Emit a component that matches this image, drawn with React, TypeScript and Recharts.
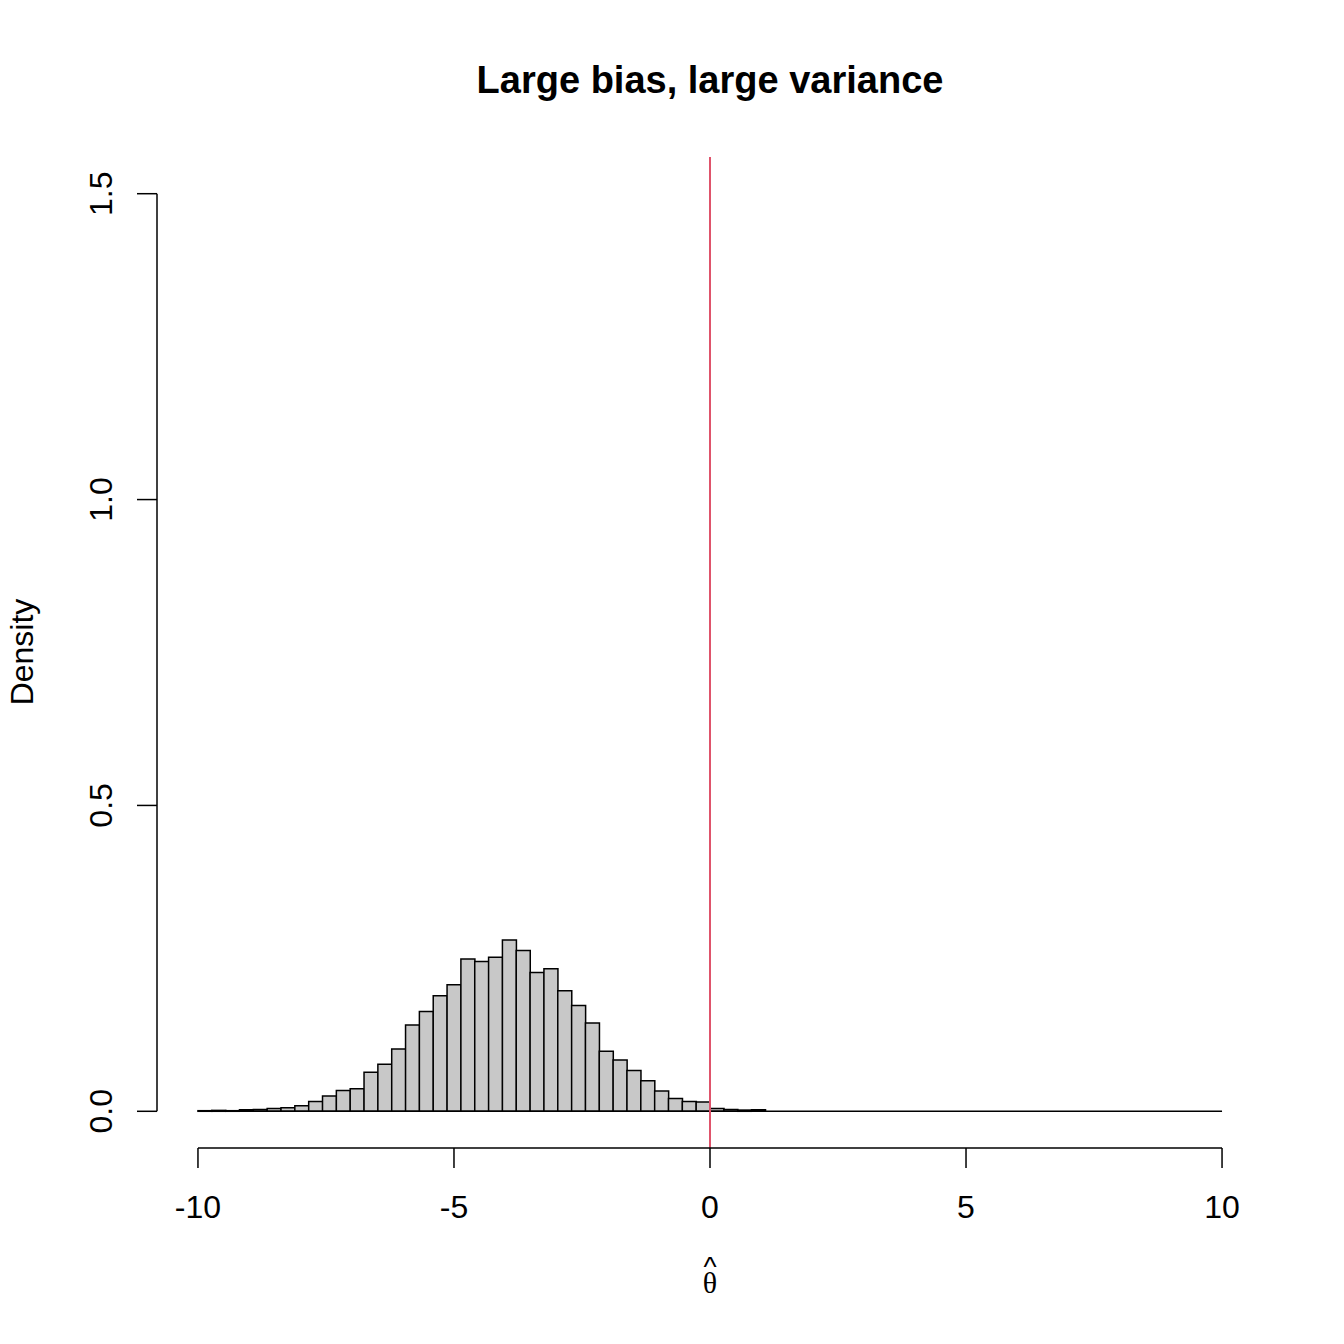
import React from "react";
import {
  ComposedChart,
  Bar,
  XAxis,
  YAxis,
  ReferenceLine,
} from "recharts";

// histogram: 74 equal bins from -10 to 10 (breaks at seq(-10, 10, length = 75))
const BIN_COUNT = 74;
const X_MIN = -10;
const X_MAX = 10;

const densityLeft = [
  0.001, 0.0015, 0.001, 0.0025, 0.003, 0.0045, 0.006, 0.009, 0.016, 0.025,
  0.034, 0.037, 0.064, 0.077, 0.102, 0.141, 0.163, 0.189, 0.207, 0.249,
  0.245, 0.252, 0.28, 0.263, 0.227, 0.233, 0.197, 0.173, 0.1445, 0.098,
  0.084, 0.0665, 0.05, 0.033, 0.021, 0.016, 0.015,
];
const densityRight = [
  0.0045, 0.003, 0.002, 0.0025, 0, 0, 0, 0, 0, 0,
  0, 0, 0, 0, 0, 0, 0, 0, 0, 0,
  0, 0, 0, 0, 0, 0, 0, 0, 0, 0,
  0, 0, 0, 0, 0, 0, 0,
];
const density = [...densityLeft, ...densityRight];

const xTicks = [-10, -5, 0, 5, 10];
const yTicks = [0, 0.5, 1, 1.5];

const title = "Large bias, large variance";
const yLabel = "Density";

const binWidth = (X_MAX - X_MIN) / BIN_COUNT;
const histData = density.map((d, i) => ({
  mid: X_MIN + (i + 0.5) * binWidth,
  density: d,
}));

const FONT = "'Liberation Sans', Arial, Helvetica, sans-serif";
const SERIF = "'Liberation Serif', 'DejaVu Serif', serif";
const W = 1344;
const H = 1344;

const XTick = (props: any) => {
  const { x, y, payload } = props;
  return (
    <text x={x} y={y + 48} textAnchor="middle" fontSize={32} fontFamily={FONT} fill="#000">
      {payload.value}
    </text>
  );
};

const YTick = (props: any) => {
  const { x, y, payload } = props;
  return (
    <text
      x={0}
      y={0}
      transform={`translate(${x - 23}, ${y}) rotate(-90)`}
      textAnchor="middle"
      fontSize={32}
      fontFamily={FONT}
      fill="#000"
    >
      {Number(payload.value).toFixed(1)}
    </text>
  );
};

export default function App() {
  return (
    <div style={{ position: "absolute", left: 0, top: 0, width: W, height: H, background: "#fff" }}>
      <ComposedChart
        width={W}
        height={H}
        data={histData}
        barCategoryGap={0}
        barGap={0}
        margin={{ top: 157, right: 81, bottom: 0, left: 0 }}
      >
        <XAxis
          dataKey="mid"
          type="number"
          domain={[-10.8, 10.8]}
          allowDataOverflow
          ticks={xTicks}
          interval={0}
          axisLine={false}
          tickLine={{ stroke: "#000", strokeWidth: 1.5 }}
          tickSize={20}
          tick={<XTick />}
          height={196}
        />
        <YAxis
          type="number"
          domain={[-0.06, 1.56]}
          allowDataOverflow
          ticks={yTicks}
          interval={0}
          axisLine={false}
          tickLine={{ stroke: "#000", strokeWidth: 1.5 }}
          tickSize={20}
          tick={<YTick />}
          width={157}
        />
        <ReferenceLine
          segment={[{ x: X_MIN, y: 0 }, { x: X_MAX, y: 0 }]}
          stroke="#000"
          strokeWidth={1.5}
          ifOverflow="visible"
        />
        <Bar
          dataKey="density"
          fill="#c8c8c8"
          stroke="#000"
          strokeWidth={1.5}
          isAnimationActive={false}
        />
        <ReferenceLine x={0} stroke="#DF536B" strokeWidth={2} ifOverflow="visible" />
        <ReferenceLine
          segment={[{ x: X_MIN, y: -0.06 }, { x: X_MAX, y: -0.06 }]}
          stroke="#000"
          strokeWidth={1.5}
          ifOverflow="visible"
        />
        <ReferenceLine
          segment={[{ x: -10.8, y: 0 }, { x: -10.8, y: 1.5 }]}
          stroke="#000"
          strokeWidth={1.5}
          ifOverflow="visible"
        />
      </ComposedChart>
      <svg
        width={W}
        height={H}
        style={{ position: "absolute", left: 0, top: 0, pointerEvents: "none" }}
      >
        <text x={710} y={93} textAnchor="middle" fontSize={38} fontWeight="bold" fontFamily={FONT}>
          {title}
        </text>
        <text
          x={0}
          y={0}
          transform="translate(33, 652) rotate(-90)"
          textAnchor="middle"
          fontSize={32}
          fontFamily={FONT}
        >
          {yLabel}
        </text>
        {/* theta hat: caret sits right above the theta, as in the plotmath label */}
        <text textAnchor="middle" fontFamily={SERIF} fill="#000">
          <tspan x={710} y={1276} fontSize={28} fontFamily={FONT}>^</tspan>
          <tspan x={710} y={1293} fontSize={30}>θ</tspan>
        </text>
      </svg>
    </div>
  );
}
